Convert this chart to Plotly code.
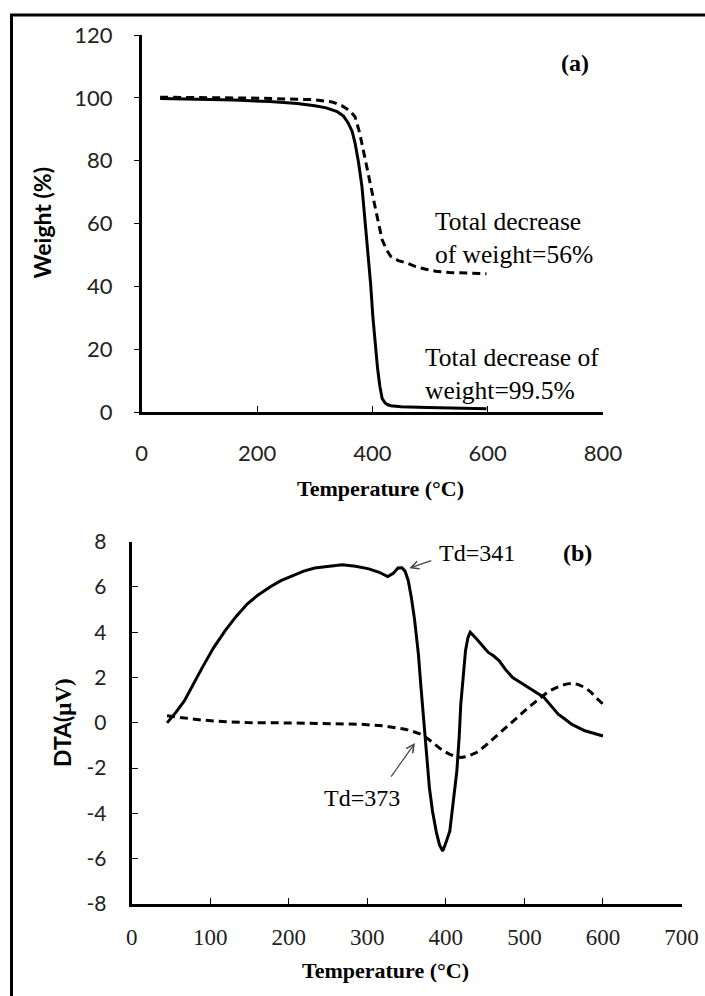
import plotly.graph_objects as go

# ---- Panel (a): TGA ----
tga_temp_solid = [32, 100, 160, 222, 270, 300, 320, 339, 350, 358, 365, 370, 376, 382, 387, 392, 397, 401, 405, 409, 413, 417, 422, 427, 432, 450, 495, 550, 598]
tga_weight_solid = [99.8, 99.6, 99.3, 98.8, 98.2, 97.5, 96.8, 95.6, 94.2, 92.0, 89.3, 85.6, 79.5, 71.7, 62.0, 51.6, 40.8, 30.0, 21.5, 14.0, 8.2, 4.3, 2.9, 2.3, 2.0, 1.7, 1.4, 1.2, 1.0]

tga_temp_dash = [32, 100, 200, 300, 330, 347, 360, 370, 378, 387, 397, 407, 417, 425, 432, 445, 460, 475, 491, 510, 534, 570, 598]
tga_weight_dash = [100.2, 100.1, 99.9, 99.4, 98.7, 97.5, 96.0, 94.0, 88.8, 81.0, 71.7, 63.3, 54.8, 51.5, 49.5, 48.2, 47.4, 46.3, 45.5, 44.8, 44.4, 44.1, 44.0]

# ---- Panel (b): DTA ----
dta_temp_solid = [45, 56, 67, 78, 90, 104, 119, 133, 147, 161, 176, 190, 205, 219, 233, 250, 268, 285, 302, 315, 326, 333, 339, 344, 348, 352, 356, 360, 365, 368, 372, 375, 379, 383, 388, 392, 396, 400, 405, 409, 414, 417, 419, 422, 425, 428, 431, 438, 445, 454, 461, 468, 476, 485, 495, 505, 515, 525, 534, 543, 551, 560, 568, 577, 588, 600]
dta_value_solid = [0.0, 0.45, 0.97, 1.7, 2.45, 3.3, 4.07, 4.7, 5.25, 5.65, 6.0, 6.28, 6.5, 6.7, 6.84, 6.92, 6.98, 6.92, 6.8, 6.65, 6.46, 6.6, 6.84, 6.85, 6.7, 6.3, 5.55, 4.6, 3.05, 1.7, 0.09, -1.2, -2.86, -3.9, -4.85, -5.4, -5.66, -5.3, -4.78, -3.6, -2.12, -0.6, 0.83, 2.0, 3.19, 3.75, 4.0, 3.75, 3.48, 3.11, 2.95, 2.74, 2.35, 2.0, 1.78, 1.56, 1.35, 1.12, 0.75, 0.38, 0.18, -0.06, -0.2, -0.35, -0.46, -0.58]

dta_temp_dash = [45, 70, 90, 120, 147, 190, 233, 260, 290, 319, 335, 348, 358, 368, 377, 385, 395, 405, 412, 419, 428, 439, 450, 462, 476, 491, 505, 520, 531, 543, 552, 560, 568, 577, 585, 591, 600]
dta_value_dash = [0.31, 0.2, 0.12, 0.05, 0.01, 0.0, -0.03, -0.04, -0.06, -0.13, -0.2, -0.28, -0.38, -0.5, -0.7, -0.94, -1.2, -1.39, -1.48, -1.53, -1.48, -1.31, -1.02, -0.65, -0.2, 0.24, 0.68, 1.12, 1.4, 1.59, 1.7, 1.75, 1.7, 1.56, 1.35, 1.12, 0.83]

# ---- tick labels ----
a_xticks = [0, 200, 400, 600, 800]
a_yticks = [0, 20, 40, 60, 80, 100, 120]
b_xticks = [0, 100, 200, 300, 400, 500, 600, 700]
b_yticks = [-8, -6, -4, -2, 0, 2, 4, 6, 8]
b_yticktext = ["-8", "-6", "-4", "-2", "0", "2", "4", "6", "8"]

SANS = "Lato"
SERIF = "Liberation Serif"
W, H = 705, 996

fig = go.Figure()
fig.add_trace(go.Scatter(x=tga_temp_solid, y=tga_weight_solid, mode="lines",
                         line=dict(color="black", width=3), xaxis="x", yaxis="y"))
fig.add_trace(go.Scatter(x=tga_temp_dash, y=tga_weight_dash, mode="lines",
                         line=dict(color="black", width=3, dash="8px,5px"), xaxis="x", yaxis="y"))
fig.add_trace(go.Scatter(x=dta_temp_solid, y=dta_value_solid, mode="lines",
                         line=dict(color="black", width=3), xaxis="x2", yaxis="y2"))
fig.add_trace(go.Scatter(x=dta_temp_dash, y=dta_value_dash, mode="lines",
                         line=dict(color="black", width=3, dash="8px,5px"), xaxis="x2", yaxis="y2"))

common = dict(showgrid=False, zeroline=False, showline=True, linecolor="black",
              tickcolor="black", tickwidth=1, automargin=False)

fig.update_layout(
    width=W, height=H, margin=dict(l=0, r=0, t=0, b=0, pad=0, autoexpand=False),
    paper_bgcolor="white", plot_bgcolor="white", showlegend=False,
    xaxis=dict(domain=[141.7 / W, 603 / W], range=[0, 800], tickvals=a_xticks,
               ticks="inside", ticklen=6, linewidth=3, anchor="y",
               tickfont=dict(family=SANS, size=22, color="#222"),
               ticklabelstandoff=20, **common),
    yaxis=dict(domain=[1 - 412 / H, 1 - 35 / H], range=[0, 120], tickvals=a_yticks,
               ticks="outside", ticklen=5, linewidth=2.5, anchor="x",
               tickfont=dict(family=SANS, size=22, color="#222"),
               ticklabelstandoff=17, **common),
    xaxis2=dict(domain=[131.7 / W, 681.5 / W], range=[0, 700], tickvals=b_xticks,
                ticks="inside", ticklen=6, linewidth=3, anchor="y2",
                tickfont=dict(family=SERIF, size=23, color="#222"),
                ticklabelstandoff=10, **common),
    yaxis2=dict(domain=[1 - 904 / H, 1 - 541.7 / H], range=[-8, 8], tickvals=b_yticks,
                ticktext=b_yticktext, ticks="inside", ticklen=6, linewidth=3, anchor="x2",
                tickfont=dict(family=SANS, size=21, color="#222"),
                ticklabelstandoff=18, **common),
)

def pann(text, px, py, **kw):
    d = dict(text=text, x=px / W, y=1 - py / H, xref="paper", yref="paper",
             xanchor="center", yanchor="middle", showarrow=False)
    d.update(kw)
    return d

ann = []
# axis titles
ann.append(pann("<b>Weight (%)</b>", 41, 223.5, textangle=-90,
                font=dict(family=SANS, size=23, color="black")))
ann.append(pann("<b>Temperature (°C)</b>", 380, 488,
                font=dict(family=SERIF, size=22, color="black")))
ann.append(pann("<b>DTA(<span style='font-family:Liberation Serif'>μV)</span></b>", 62, 723,
                textangle=-90, font=dict(family=SANS, size=23, color="black")))
ann.append(pann("<b>Temperature (°C)</b>", 385.5, 970,
                font=dict(family=SERIF, size=22, color="black")))
# panel (a) labels
ann.append(dict(text="<b>(a)</b>", x=751.5, y=111.1, xref="x", yref="y", showarrow=False,
                xanchor="center", yanchor="middle",
                font=dict(family=SERIF, size=24, color="black")))
ann.append(dict(text="Total decrease<br>of weight=56%", x=505, y=55.4, xref="x", yref="y",
                xanchor="left", yanchor="middle", align="left", showarrow=False,
                font=dict(family=SERIF, size=25.5, color="black")))
ann.append(dict(text="Total decrease of<br>weight=99.5%", x=488, y=12.1, xref="x", yref="y",
                xanchor="left", yanchor="middle", align="left", showarrow=False,
                font=dict(family=SERIF, size=25.5, color="black")))
# panel (b) labels
ann.append(dict(text="<b>(b)</b>", x=568, y=7.5, xref="x2", yref="y2", showarrow=False,
                xanchor="center", yanchor="middle",
                font=dict(family=SERIF, size=24, color="black")))
ann.append(dict(text="Td=341", x=388.7, y=7.5, xref="x2", yref="y2", xanchor="left",
                yanchor="middle", showarrow=False,
                font=dict(family=SERIF, size=24, color="black")))
ann.append(dict(text="Td=373", x=293, y=-3.31, xref="x2", yref="y2", showarrow=False,
                xanchor="center", yanchor="middle",
                font=dict(family=SERIF, size=24, color="black")))
# arrows
ann.append(dict(text="", x=353.4, y=6.83, ax=383.2, ay=7.19, xref="x2", yref="y2",
                axref="x2", ayref="y2", showarrow=True, arrowhead=5, arrowsize=1.3,
                arrowwidth=1.2, arrowcolor="#444"))
ann.append(dict(text="", x=360.7, y=-0.89, ax=328.9, ay=-2.44, xref="x2", yref="y2",
                axref="x2", ayref="y2", showarrow=True, arrowhead=5, arrowsize=1.3,
                arrowwidth=1.2, arrowcolor="#444"))
fig.update_layout(annotations=ann)

# outer frame (top and left edges)
fig.add_shape(type="line", xref="paper", yref="paper", x0=10 / W, x1=1.0, y0=1 - 15 / H, y1=1 - 15 / H,
              line=dict(color="black", width=3))
fig.add_shape(type="line", xref="paper", yref="paper", x0=11.5 / W, x1=11.5 / W, y0=0, y1=1 - 15 / H,
              line=dict(color="black", width=3))

fig.write_html("out.html")
